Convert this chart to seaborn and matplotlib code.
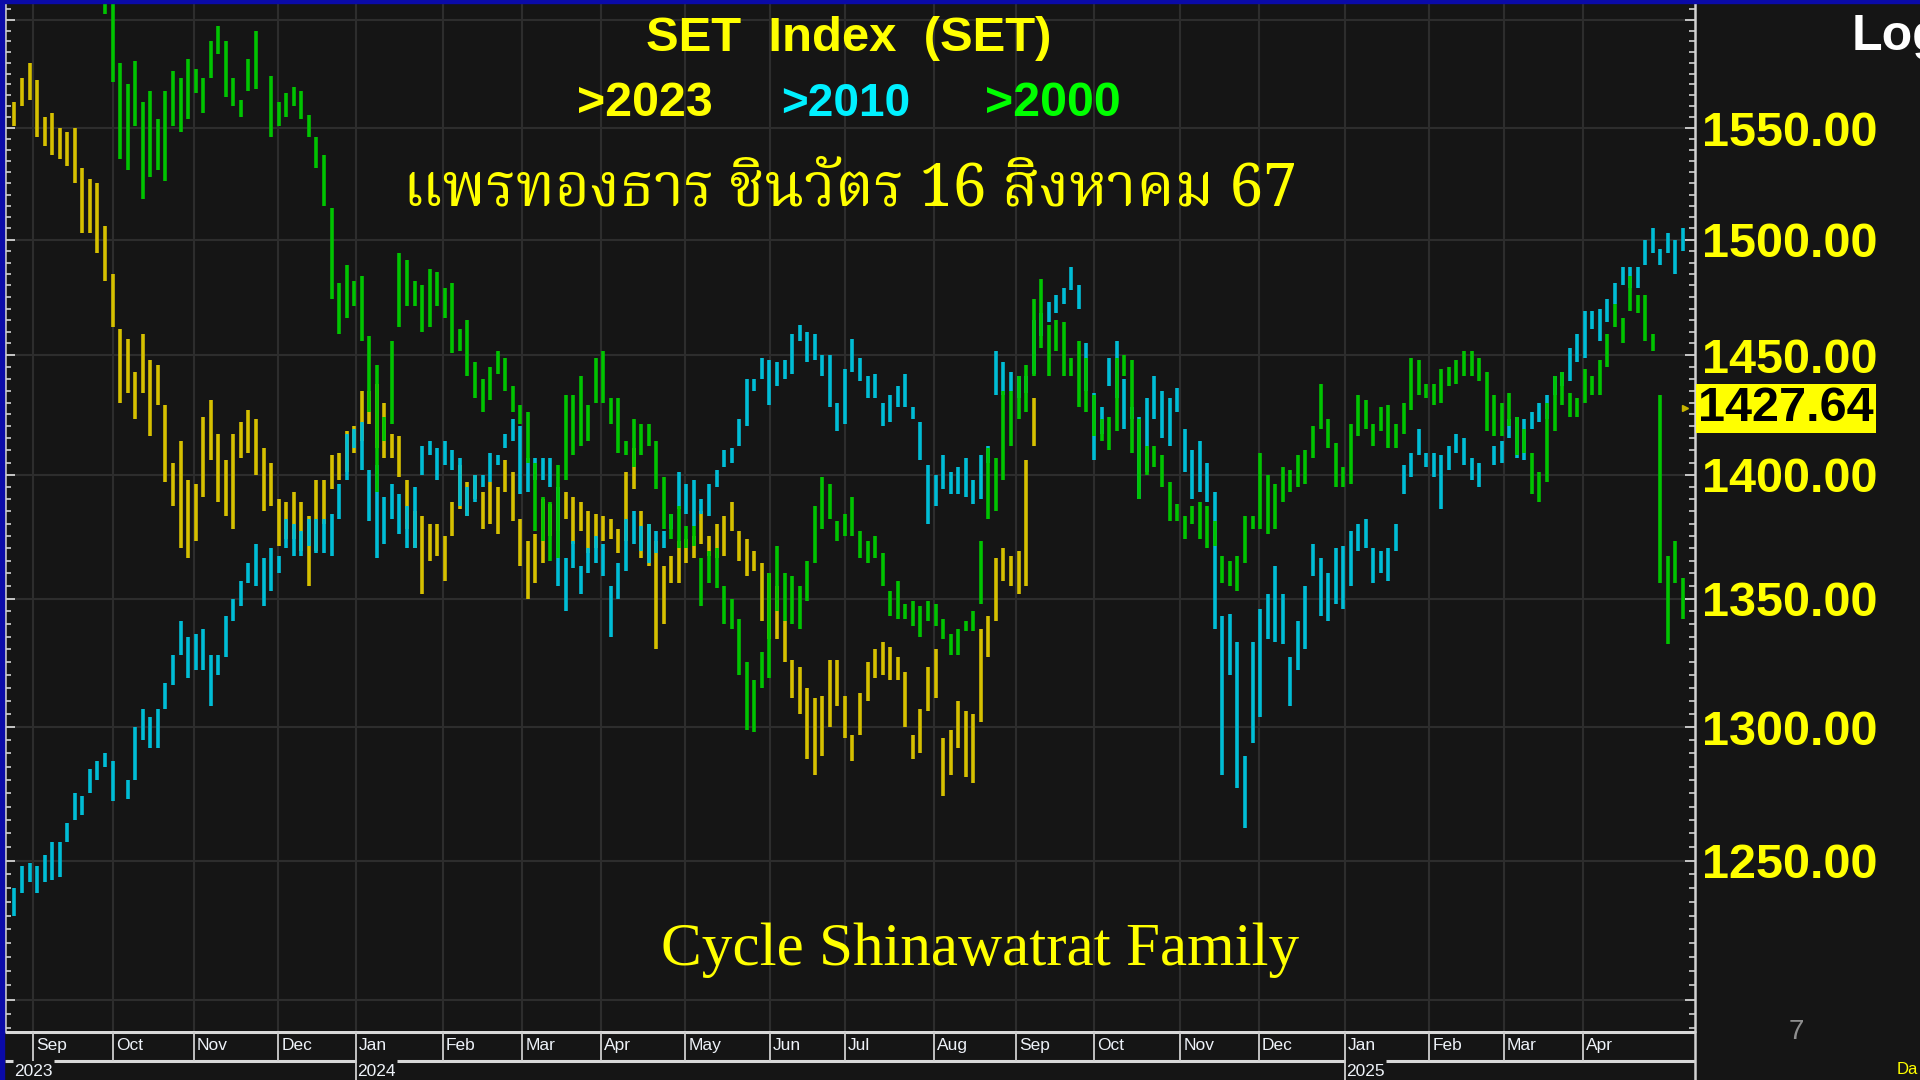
# ============================================
# SET INDEX - SHINAWATRA CYCLE OVERLAY
# ============================================

import numpy as np
import pandas as pd
import matplotlib
matplotlib.use("Agg")
import matplotlib.pyplot as plt
import matplotlib.font_manager as fm
import matplotlib.transforms as mtransforms
from matplotlib import ft2font
from matplotlib.ticker import NullFormatter
import seaborn as sns

# ---------------------------
# DATA (2-day high / low bars)
# ---------------------------
# ">2023" series, bars 1..136
yellow_start = 1
yellow_high = [
    1562, 1573, 1580, 1572, 1555, 1557, 1550, 1548, 1550, 1532,
    1527, 1525, 1506, 1485, 1461, 1457, 1443, 1459, 1448, 1446,
    1429, 1405, 1414, 1398, 1396, 1424, 1431, 1417, 1406, 1417,
    1422, 1427, 1423, 1411, 1405, 1390, 1389, 1393, 1389, 1383,
    1398, 1398, 1408, 1409, 1418, 1420, 1435, 1435, 1438, 1430,
    1417, 1416, 1398, 1385, 1383, 1380, 1380, 1375, 1389, 1404,
    1397, 1400, 1393, 1397, 1395, 1406, 1401, 1382, 1373, 1376,
    1390, 1388, 1395, 1393, 1391, 1389, 1385, 1384, 1383, 1382,
    1378, 1401, 1411, 1385, 1380, 1373, 1363, 1367, 1373, 1374,
    1375, 1385, 1375, 1380, 1383, 1389, 1377, 1374, 1369, 1364,
    1360, 1355, 1341, 1326, 1323, 1315, 1311, 1312, 1326, 1326,
    1312, 1297, 1313, 1325, 1330, 1333, 1331, 1327, 1321, 1297,
    1307, 1323, 1330, 1296, 1299, 1310, 1306, 1305, 1338, 1343,
    1366, 1370, 1367, 1369, 1406, 1432]
yellow_low = [
    1551, 1560, 1563, 1546, 1542, 1538, 1536, 1533, 1525, 1503,
    1503, 1494, 1482, 1462, 1430, 1434, 1423, 1434, 1416, 1429,
    1397, 1387, 1370, 1366, 1373, 1391, 1406, 1389, 1383, 1378,
    1407, 1409, 1400, 1385, 1387, 1371, 1374, 1374, 1369, 1355,
    1369, 1380, 1394, 1398, 1401, 1409, 1414, 1421, 1411, 1407,
    1407, 1399, 1378, 1370, 1352, 1365, 1367, 1357, 1375, 1386,
    1383, 1390, 1378, 1380, 1376, 1393, 1381, 1363, 1350, 1356,
    1364, 1375, 1377, 1382, 1372, 1377, 1368, 1370, 1373, 1374,
    1368, 1373, 1394, 1366, 1363, 1330, 1340, 1356, 1356, 1364,
    1366, 1372, 1367, 1366, 1367, 1377, 1365, 1359, 1361, 1341,
    1334, 1334, 1325, 1311, 1305, 1288, 1282, 1289, 1300, 1308,
    1296, 1287, 1297, 1310, 1319, 1320, 1318, 1318, 1300, 1288,
    1290, 1306, 1311, 1274, 1282, 1292, 1281, 1279, 1302, 1327,
    1341, 1357, 1355, 1352, 1355, 1412]

# ">2010" series, bars 1..222
cyan_start = 1
cyan_high = [
    1240, 1248, 1249, 1248, 1252, 1257, 1257, 1264, 1275, 1274,
    1284, 1287, 1290, 1287, None, 1280, 1300, 1307, 1304, 1307,
    1317, 1328, 1341, 1335, 1336, 1338, 1328, 1328, 1343, 1350,
    1357, 1364, 1372, 1366, 1370, 1367, 1382, 1380, 1377, 1382,
    1382, 1382, 1384, 1396, 1417, 1419, 1422, 1402, 1404, 1391,
    1396, 1392, 1387, 1395, 1412, 1414, 1411, 1414, 1410, 1407,
    1395, 1400, 1400, 1409, 1408, 1417, 1423, 1420, 1407, 1407,
    1407, 1407, 1395, 1366, 1373, 1363, 1370, 1375, 1372, 1355,
    1364, 1382, 1385, 1379, 1380, 1377, 1377, 1384, 1401, 1396,
    1398, 1390, 1396, 1402, 1410, 1411, 1423, 1440, 1440, 1449,
    1448, 1447, 1448, 1459, 1463, 1460, 1459, 1450, 1450, 1430,
    1444, 1457, 1449, 1441, 1442, 1430, 1433, 1437, 1442, 1428,
    1422, 1404, 1400, 1408, 1401, 1403, 1407, 1398, 1408, 1412,
    1452, 1447, 1443, 1441, 1441, 1465, 1468, 1473, 1476, 1479,
    1488, 1480, 1455, 1434, 1428, 1449, 1456, 1440, 1428, 1424,
    1432, 1441, 1435, 1432, 1436, 1419, 1410, 1414, 1405, 1393,
    1343, 1344, 1333, 1289, 1333, 1346, 1352, 1363, 1352, 1327,
    1341, 1355, 1372, 1366, 1360, 1370, 1371, 1377, 1380, 1382,
    1370, 1369, 1370, 1380, 1404, 1409, 1419, 1409, 1409, 1408,
    1412, 1417, 1415, 1407, 1405, None, 1412, 1414, 1423, 1424,
    1423, 1426, 1430, 1433, 1441, 1443, 1453, 1459, 1469, 1469,
    1470, 1474, 1481, 1488, 1488, 1488, 1500, 1505, 1496, 1503,
    1500, 1505]
cyan_low = [
    1230, 1238, 1242, 1238, 1242, 1243, 1244, 1257, 1265, 1267,
    1275, 1280, 1285, 1272, None, 1273, 1280, 1295, 1292, 1292,
    1307, 1316, 1328, 1319, 1322, 1322, 1308, 1320, 1327, 1341,
    1347, 1356, 1355, 1347, 1353, 1360, 1370, 1367, 1367, 1371,
    1368, 1368, 1367, 1382, 1398, 1411, 1402, 1381, 1366, 1372,
    1382, 1376, 1370, 1370, 1400, 1408, 1398, 1404, 1402, 1387,
    1383, 1389, 1395, 1397, 1404, 1411, 1414, 1392, 1393, 1398,
    1398, 1395, 1355, 1345, 1362, 1352, 1360, 1364, 1359, 1335,
    1350, 1361, 1372, 1369, 1364, 1368, 1370, 1378, 1386, 1384,
    1379, 1384, 1383, 1395, 1403, 1405, 1412, 1420, 1435, 1440,
    1429, 1437, 1440, 1442, 1456, 1447, 1448, 1441, 1428, 1418,
    1421, 1443, 1439, 1432, 1432, 1420, 1422, 1428, 1428, 1423,
    1406, 1380, 1387, 1394, 1392, 1392, 1391, 1388, 1390, 1405,
    1433, 1433, 1435, 1432, 1434, 1442, 1458, 1464, 1468, 1472,
    1478, 1470, 1435, 1406, 1417, 1437, 1432, 1419, 1423, 1390,
    1401, 1423, 1415, 1412, 1426, 1401, 1390, 1393, 1389, 1338,
    1282, 1320, 1277, 1262, 1294, 1304, 1334, 1333, 1332, 1308,
    1322, 1330, 1359, 1343, 1341, 1348, 1346, 1355, 1369, 1370,
    1356, 1360, 1357, 1369, 1392, 1399, 1408, 1403, 1399, 1386,
    1402, 1409, 1404, 1398, 1395, None, 1404, 1405, 1415, 1407,
    1406, 1419, 1422, 1423, 1433, 1437, 1439, 1447, 1449, 1461,
    1456, 1464, 1472, 1480, 1479, 1479, 1489, 1494, 1489, 1494,
    1485, 1495]

# ">2000" series, bars 13..222
green_start = 13
green_high = [
    1615, 1615, 1580, 1570, 1581, 1562, 1567, 1554,
    1567, 1576, 1573, 1582, 1577, 1573, 1590, 1597, 1590, 1573,
    1563, 1582, 1595, None, 1574, 1562, 1566, 1569, 1567, 1556,
    1546, 1538, 1514, 1481, 1489, 1482, 1484, 1458, 1446, 1424,
    1456, 1494, 1491, 1482, 1480, 1487, 1486, 1479, 1481, 1461,
    1465, 1447, 1440, 1445, 1452, 1449, 1437, 1429, 1426, 1405,
    1391, 1389, 1404, 1433, 1433, 1441, 1429, 1449, 1452, 1432,
    1432, 1414, 1423, 1421, 1421, 1414, 1399, 1384, 1387, 1379,
    1379, 1366, 1369, 1370, 1355, 1350, 1342, 1325, 1318, 1329,
    1360, 1371, 1360, 1359, 1355, 1365, 1387, 1399, 1396, 1381,
    1384, 1391, 1377, 1373, 1375, 1368, 1353, 1357, 1348, 1349,
    1347, 1349, 1348, 1342, 1336, 1338, 1341, 1345, 1373, 1411,
    1407, 1435, 1435, 1441, 1446, 1474, 1483, 1463, 1465, 1464,
    1449, 1456, 1449, 1433, 1423, 1424, 1449, 1450, 1448, 1423,
    1412, 1412, 1408, 1397, 1388, 1383, 1387, 1389, 1387, 1381,
    1367, 1365, 1367, 1383, 1383, 1409, 1400, 1396, 1403, 1402,
    1408, 1410, 1420, 1438, 1423, 1413, 1403, 1421, 1433, 1431,
    1421, 1428, 1429, 1421, 1430, 1449, 1448, 1438, 1438, 1444,
    1445, 1448, 1452, 1452, 1449, 1443, 1433, 1430, 1434, 1424,
    1419, 1409, 1401, 1430, 1441, 1443, 1434, 1432, 1444, 1441,
    1448, 1459, 1472, 1466, 1484, 1476, 1476, 1459, 1433, 1367,
    1373, 1358]
green_low = [
    1603, 1571, 1536, 1531, 1551, 1518, 1528, 1531,
    1526, 1551, 1548, 1554, 1566, 1557, 1573, 1584, 1564, 1560,
    1555, 1567, 1568, None, 1546, 1551, 1555, 1560, 1554, 1546,
    1532, 1515, 1474, 1459, 1466, 1471, 1456, 1426, 1393, 1414,
    1421, 1462, 1471, 1471, 1460, 1462, 1471, 1466, 1451, 1452,
    1441, 1432, 1426, 1431, 1442, 1435, 1426, 1421, 1405, 1377,
    1373, 1365, 1366, 1398, 1408, 1412, 1414, 1430, 1430, 1421,
    1409, 1408, 1403, 1408, 1412, 1394, 1378, 1374, 1370, 1370,
    1371, 1347, 1356, 1354, 1340, 1338, 1320, 1299, 1298, 1315,
    1319, 1345, 1341, 1340, 1338, 1349, 1364, 1378, 1382, 1373,
    1375, 1375, 1366, 1364, 1366, 1355, 1343, 1342, 1342, 1339,
    1335, 1341, 1339, 1334, 1328, 1328, 1337, 1337, 1348, 1382,
    1385, 1398, 1412, 1423, 1426, 1441, 1453, 1441, 1452, 1441,
    1441, 1428, 1426, 1416, 1414, 1410, 1418, 1441, 1409, 1390,
    1400, 1403, 1395, 1381, 1381, 1374, 1380, 1374, 1370, 1371,
    1356, 1355, 1353, 1364, 1378, 1378, 1376, 1378, 1389, 1393,
    1395, 1396, 1407, 1419, 1411, 1395, 1395, 1396, 1416, 1419,
    1412, 1418, 1411, 1411, 1417, 1427, 1433, 1432, 1429, 1430,
    1437, 1438, 1441, 1441, 1439, 1418, 1416, 1416, 1420, 1408,
    1409, 1392, 1389, 1397, 1418, 1429, 1424, 1424, 1430, 1433,
    1433, 1445, 1462, 1455, 1469, 1468, 1456, 1452, 1356, 1332,
    1356, 1342]

last_price = 1427.64

# x axis in trading days
month_pos = [7.5, 28.6, 50.0, 72.4, 92.9, 115.9, 137.0, 157.8, 180.2, 202.6,
             222.4, 246.1, 267.9, 288.6, 311.4, 332.1, 354.9, 377.3, 397.1, 417.9]
month_labels = ["Sep", "Oct", "Nov", "Dec", "Jan", "Feb", "Mar", "Apr", "May", "Jun",
                "Jul", "Aug", "Sep", "Oct", "Nov", "Dec", "Jan", "Feb", "Mar", "Apr"]
year_pos = [2.0, 92.9, 354.9]
year_labels = ["2023", "2024", "2025"]
X_END = 447.7

grid_levels = [1200, 1250, 1300, 1350, 1400, 1450, 1500, 1550, 1600]
label_levels = [1250, 1300, 1350, 1400, 1450, 1500, 1550]

# ---------------------------
# COLOURS / FONTS
# ---------------------------
BG = "#151515"
GRID = "#2d2d2d"
YEL = "#FFFF00"
AXIS = "#d2d2d2"
BLUE = "#0a0aa8"
palette = {"2023": "#D6C000", "2010": "#00BDD6", "2000": "#00C400"}

sns.set_style("dark", {"axes.facecolor": BG, "figure.facecolor": BG})
plt.rcParams["lines.solid_capstyle"] = "butt"
plt.rcParams["font.family"] = ["Liberation Sans", "DejaVu Sans"]

installed = {f.name for f in fm.fontManager.ttflist}
narrow = "Liberation Sans Narrow" in installed
LABEL_FONT = "Liberation Sans Narrow" if narrow else "Liberation Sans"
BIG = 43 if narrow else 35
MONTH_FS = 15 if narrow else 12.5


def find_thai_font():
    for name in ["Noto Serif Thai", "Noto Sans Thai Looped", "Noto Sans Thai"]:
        if name in installed:
            return name
    for f in fm.fontManager.ttflist:
        try:
            if 0x0E17 in ft2font.FT2Font(f.fname).get_charmap():
                return f.name
        except Exception:
            pass
    return "DejaVu Sans"


THAI_FONT = find_thai_font()

# ---------------------------
# LONG TABLE FOR SEABORN
# ---------------------------
rows = []
for name, start, highs, lows in [("2023", yellow_start, yellow_high, yellow_low),
                                 ("2010", cyan_start, cyan_high, cyan_low),
                                 ("2000", green_start, green_high, green_low)]:
    for i, (h, l) in enumerate(zip(highs, lows)):
        if h is None:
            continue
        day = 2 * (start + i) + 0.5
        rows.append((name, f"{name}-{i}", day, h))
        rows.append((name, f"{name}-{i}", day, l))
df = pd.DataFrame(rows, columns=["series", "bar", "day", "price"])

# ---------------------------
# FIGURE
# ---------------------------
fig = plt.figure(figsize=(19.2, 10.8), dpi=100)
L, B, W, H = 5 / 1920, 49 / 1080, 1690 / 1920, 1028 / 1080
ax = fig.add_axes([L, B, W, H])
ax.set_yscale("log")

sns.lineplot(data=df, x="day", y="price", hue="series", units="bar",
             hue_order=["2023", "2010", "2000"], palette=palette,
             estimator=None, sort=False, linewidth=2.6, legend=False, ax=ax)

ax.set_xlim(0, X_END)
ax.set_ylim(1189, 1608)
ax.set_xlabel("")
ax.set_ylabel("")

ax.set_xticks(month_pos)
ax.tick_params(axis="x", length=0, labelbottom=False)

ylabels = [f"{v:.2f}" if v in label_levels else "" for v in grid_levels]
ax.set_yticks(grid_levels, labels=ylabels, fontsize=BIG, fontweight="bold",
              fontfamily=LABEL_FONT, color=YEL)
ax.set_yticks(np.arange(1190, 1610, 5), minor=True)
ax.yaxis.set_minor_formatter(NullFormatter())
ax.tick_params(axis="y", which="both", left=True, right=True, labelleft=False,
               labelright=True, direction="in", color=AXIS, pad=5)
ax.tick_params(axis="y", which="major", length=7, width=1.3)
ax.tick_params(axis="y", which="minor", length=4, width=1.2)

ax.grid(True, which="major", color=GRID, lw=1.5)
ax.grid(False, which="minor")

for s in ["top", "bottom"]:
    ax.spines[s].set_visible(False)
for s in ["left", "right"]:
    ax.spines[s].set_color(AXIS)
    ax.spines[s].set_linewidth(1.8)

# last price box + marker
trans = mtransforms.blended_transform_factory(ax.transAxes, ax.transData)
ax.text(1 + 3 / 1690, last_price, f"{last_price:.2f}", transform=trans,
        ha="left", va="center", color="black", fontsize=BIG, fontweight="bold",
        family=LABEL_FONT, clip_on=False, zorder=10,
        bbox=dict(boxstyle="square,pad=0.04", fc=YEL, ec="none"))
ax.plot([X_END - 2.6], [last_price], marker=">", ms=5, color="#C8B400", clip_on=False)

# ---------------------------
# DATE BAND
# ---------------------------
axd = fig.add_axes([L, 0, W, B])
axd.set_xlim(0, X_END)
axd.set_ylim(0, 1)
axd.axis("off")

line_kw = dict(color="#d8d8d8", lw=2.2)
axd.axhline(0.975, **line_kw)
year_w = 11
starts = [0] + [p + year_w for p in year_pos]
ends = year_pos + [X_END]
axd.hlines([0.39] * len(starts), starts, ends, **line_kw)
axd.vlines(month_pos, 0.39, 0.975, color="#cfcfcf", lw=1.3)
axd.vlines(year_pos[1:], 0.0, 0.39, color="#cfcfcf", lw=1.3)
axd.vlines([X_END], 0.0, 1.0, color=AXIS, lw=1.8, clip_on=False)

for pos, lab in zip(month_pos, month_labels):
    axd.text(pos + 0.8, 0.70, lab, color="#eef2f8", fontsize=MONTH_FS,
             family=LABEL_FONT, ha="left", va="center")
for pos, lab in zip(year_pos, year_labels):
    axd.text(pos + 0.5, 0.17, lab, color="#eef2f8", fontsize=MONTH_FS,
             family=LABEL_FONT, ha="left", va="center")

# ---------------------------
# TEXT
# ---------------------------
def px(x, y):
    return x / 1920, 1 - y / 1080


def fit_width(t, target):
    w = t.get_window_extent(fig.canvas.get_renderer()).width
    t.set_fontsize(t.get_fontsize() * target / w)


title = fig.text(*px(849, 51), "SET  Index  (SET)", color=YEL, fontsize=43,
                 fontweight="bold", family=LABEL_FONT, ha="center", va="baseline")
fit_width(title, 406)

for lab, col, cx, w in [(">2023", "#FFFF00", 645, 136),
                        (">2010", "#00F0FF", 846, 129),
                        (">2000", "#00FF00", 1053, 136)]:
    t = fig.text(*px(cx, 116), lab, color=col, fontsize=43, fontweight="bold",
                 family=LABEL_FONT, ha="center", va="baseline")
    fit_width(t, w)

thai = fig.text(*px(850, 205), "แพรทองธาร ชินวัตร 16 สิงหาคม 67", color=YEL,
                fontsize=44, family=[THAI_FONT, "Liberation Serif"],
                ha="center", va="baseline")
fit_width(thai, 893)

cycle = fig.text(*px(980, 965), "Cycle Shinawatrat Family", color=YEL, fontsize=46,
                 family="Liberation Serif", ha="center", va="baseline")
fit_width(cycle, 639)

fig.text(*px(1852, 50), "Log", color="white", fontsize=36, fontweight="bold",
         family="Liberation Sans", ha="left", va="baseline")
fig.text(*px(1796, 1032), "7", color="#8f8f8f", fontsize=20, ha="center", va="center")
fig.text(*px(1897, 1069), "Da", color=YEL, fontsize=12, family=LABEL_FONT,
         ha="left", va="center")

# blue frame at top and left
fig.add_artist(plt.Rectangle((0, 1 - 3 / 1080), 1, 3 / 1080, transform=fig.transFigure,
                             color=BLUE, zorder=20))
fig.add_artist(plt.Rectangle((0, 0), 4 / 1920, 1, transform=fig.transFigure,
                             color=BLUE, zorder=20))

fig.savefig("out.png", dpi=100, facecolor=BG)
